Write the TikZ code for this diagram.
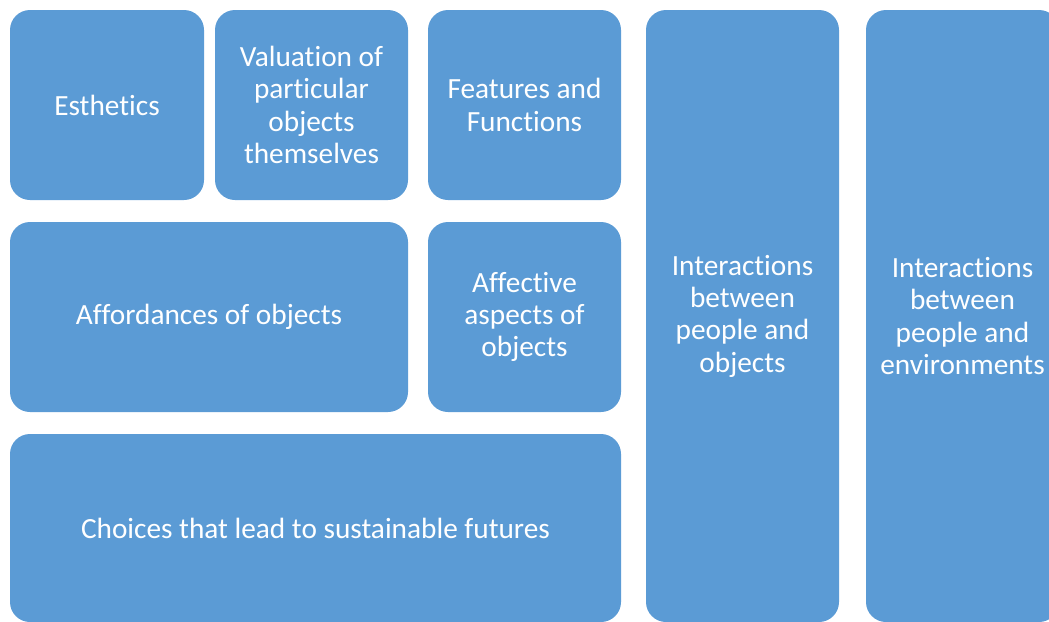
\documentclass[tikz,border=0pt]{standalone}
\usepackage{fontspec}
\setmainfont{Carlito}[Ligatures=NoCommon]
\definecolor{tileblue}{HTML}{5B9BD5}
\begin{document}
\begin{tikzpicture}[x=1pt,y=-1pt,
  tile/.style={rectangle, rounded corners=20pt, fill=tileblue, draw=none,
    inner sep=0pt, outer sep=0pt, text=white, align=center,
    font=\fontsize{29.3}{32.3}\selectfont},
  tilebox/.style 2 args={tile, minimum width=#1pt, minimum height=#2pt}]
\useasboundingbox (0,0) rectangle (1049,621);
\clip (0,0) rectangle (1049,621);
% top row
\node[tilebox={194}{190}] (esth) at (107,105) {Esthetics};
\node[tilebox={193}{190}] (valu) at (311.5,105) {Valuation of\\particular\\objects\\themselves};
\node[tilebox={193}{190}] (feat) at (524.5,105) {Features and\\Functions};
% middle row
\node[tilebox={398}{190}] (aff) at (209,317) {Affordances of objects};
\node[tilebox={193}{190}] (affect) at (524.5,317) {Affective\\aspects of\\objects};
% bottom row
\node[tilebox={611}{188}] (choice) at (315.5,528) {Choices that lead to sustainable futures};
% tall columns
\node[tilebox={193}{612}] (pobj) at (742.5,316) {Interactions\\between\\people and\\objects};
\node[tilebox={193}{612}] (penv) at (962.5,316) {Interactions\\between\\people and\\environments};
\end{tikzpicture}
\end{document}
